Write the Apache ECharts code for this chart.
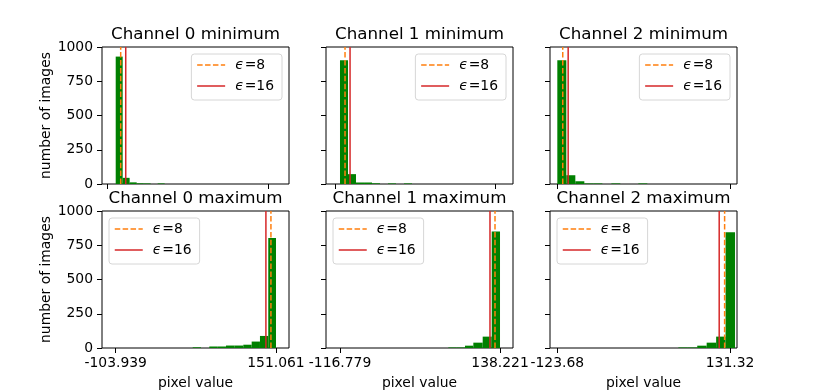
<!DOCTYPE html>
<html>
<head>
<meta charset="utf-8">
<script src="https://cdn.jsdelivr.net/npm/echarts@6/dist/echarts.min.js"></script>
<style>
  html, body { margin: 0; padding: 0; background: #fff; }
  #chart { width: 819px; height: 391px; }
</style>
</head>
<body>
<div id="chart"></div>
<script>
// channel ranges (pixel value minus channel mean)
const lowTicks = [-103.939, -116.779, -123.68];
const highTicks = [151.061, 138.221, 131.32];
const lowTickLabels = ['-103.939', '-116.779', '-123.68'];
const highTickLabels = ['151.061', '138.221', '131.32'];
// unlabeled ticks on the top row
const topRowTicks = [[-116.779, 138.221], [-123.68, 131.32], [-123.68, 131.32]];
const xMins = [-125.7, -139.1, -134.5];
const xMaxs = [171.8, 158.9, 141.6];

// histogram of per-image minimum
const minEdges0 = [-103.9, -92.8, -81.7, -70.5, -59.4, -48.3, -37.1, -26.0];
const minCounts0 = [930, 45, 12, 5, 4, 0, 4];
const minEdges1 = [-116.8, -104.0, -91.3, -78.5, -65.8, -53.0, -40.3, -27.5, -14.8, -2.0];
const minCounts1 = [904, 72, 11, 11, 5, 0, 4, 0, 4];
const minEdges2 = [-123.7, -110.4, -97.1, -83.8, -70.5, -57.2, -43.9, -30.7, -17.4, -4.1, 9.2];
const minCounts2 = [904, 64, 20, 4, 4, 0, 4, 0, 0, 4];

// histogram of per-image maximum
const maxEdges0 = [18.6, 31.8, 45.0, 58.3, 71.5, 85.4, 99.1, 112.4, 125.6, 138.8, 151.1];
const maxCounts0 = [5, 0, 11, 11, 18, 18, 24, 47, 88, 803];
const maxEdges1 = [55.8, 69.0, 82.4, 95.7, 110.6, 125.0, 138.2];
const maxCounts1 = [4, 4, 17, 39, 83, 850];
const maxEdges2 = [55.0, 68.9, 82.9, 96.8, 110.8, 124.7, 138.7];
const maxCounts2 = [4, 4, 17, 39, 83, 845];

// epsilon marker lines
const eps8Min = [-95.939, -108.779, -115.68];
const eps16Min = [-87.939, -100.779, -107.68];
const eps8Max = [143.061, 130.221, 123.32];
const eps16Max = [135.061, 122.221, 115.32];

const green = '#008000';
const orange = '#ff7f0e';
const red = '#d62728';
const font = 'DejaVu Sans';

const gridLefts = [102, 326, 550];
const gridTops = [47, 211];
const gridW = 187;
const gridH = 137;

const panels = [
  { row: 0, col: 0, title: 'Channel 0 minimum', edges: minEdges0, counts: minCounts0, e8: eps8Min[0], e16: eps16Min[0] },
  { row: 0, col: 1, title: 'Channel 1 minimum', edges: minEdges1, counts: minCounts1, e8: eps8Min[1], e16: eps16Min[1] },
  { row: 0, col: 2, title: 'Channel 2 minimum', edges: minEdges2, counts: minCounts2, e8: eps8Min[2], e16: eps16Min[2] },
  { row: 1, col: 0, title: 'Channel 0 maximum', edges: maxEdges0, counts: maxCounts0, e8: eps8Max[0], e16: eps16Max[0] },
  { row: 1, col: 1, title: 'Channel 1 maximum', edges: maxEdges1, counts: maxCounts1, e8: eps8Max[1], e16: eps16Max[1] },
  { row: 1, col: 2, title: 'Channel 2 maximum', edges: maxEdges2, counts: maxCounts2, e8: eps8Max[2], e16: eps16Max[2] }
];

function renderBar(params, api) {
  const top = api.coord([api.value(0), api.value(2)]);
  const bottom = api.coord([api.value(1), 0]);
  return {
    type: 'rect',
    shape: { x: top[0], y: top[1], width: bottom[0] - top[0], height: bottom[1] - top[1] },
    style: { fill: green }
  };
}

const grid = [], xAxis = [], yAxis = [], series = [], title = [], legend = [];

panels.forEach((p, i) => {
  const left = gridLefts[p.col];
  const top = gridTops[p.row];
  grid.push({ left, top, width: gridW, height: gridH, show: true, borderColor: '#000', borderWidth: 1, backgroundColor: 'transparent' });

  const ticks = p.row === 1 ? [lowTicks[p.col], highTicks[p.col]] : topRowTicks[p.col];
  xAxis.push({
    type: 'value',
    gridIndex: i,
    min: xMins[p.col],
    max: xMaxs[p.col],
    axisLine: { show: false, onZero: false },
    axisTick: { show: true, length: 5, inside: false, customValues: ticks, lineStyle: { color: '#000', width: 1 } },
    axisLabel: {
      show: p.row === 1,
      customValues: ticks,
      margin: 8,
      color: '#000',
      fontFamily: font,
      fontSize: 13.9,
      formatter: (v) => {
        const k = lowTicks.indexOf(v);
        if (k >= 0) return lowTickLabels[k];
        const h = highTicks.indexOf(v);
        return h >= 0 ? highTickLabels[h] : String(v);
      }
    },
    splitLine: { show: false },
    name: p.row === 1 ? 'pixel value' : '',
    nameLocation: 'middle',
    nameGap: 28,
    nameTextStyle: { color: '#000', fontFamily: font, fontSize: 13.9 }
  });

  yAxis.push({
    type: 'value',
    gridIndex: i,
    min: 0,
    max: 1000,
    interval: 250,
    axisLine: { show: false, onZero: false },
    axisTick: { show: true, length: 5, inside: false, lineStyle: { color: '#000', width: 1 } },
    axisLabel: { show: p.col === 0, margin: 9, color: '#000', fontFamily: font, fontSize: 13.9, formatter: (v) => String(v) },
    splitLine: { show: false },
    name: p.col === 0 ? 'number of images' : '',
    nameLocation: 'middle',
    nameRotate: 90,
    nameGap: 46,
    nameTextStyle: { color: '#000', fontFamily: font, fontSize: 13.9 }
  });

  const bars = p.counts.map((c, k) => [p.edges[k], p.edges[k + 1], c]);
  series.push({
    type: 'custom',
    xAxisIndex: i,
    yAxisIndex: i,
    renderItem: renderBar,
    encode: { x: [0, 1], y: 2 },
    data: bars,
    z: 2,
    silent: true
  });
  series.push({
    name: 'ϵ=8',
    type: 'line',
    xAxisIndex: i,
    yAxisIndex: i,
    data: [[p.e8, 0], [p.e8, 1000]],
    symbol: 'none',
    lineStyle: { color: orange, width: 1.5, type: [5.5, 2.4] },
    itemStyle: { color: orange },
    z: 3,
    silent: true
  });
  series.push({
    name: 'ϵ=16',
    type: 'line',
    xAxisIndex: i,
    yAxisIndex: i,
    data: [[p.e16, 0], [p.e16, 1000]],
    symbol: 'none',
    lineStyle: { color: red, width: 1.5 },
    itemStyle: { color: red },
    z: 4,
    silent: true
  });

  title.push({
    text: p.title,
    left: left + gridW / 2,
    top: top - 21,
    textAlign: 'center',
    padding: 0,
    textStyle: { color: '#000', fontFamily: font, fontSize: 16.7, fontWeight: 'normal', lineHeight: 17 }
  });

  const legendPos = p.row === 0
    ? { right: 819 - (left + gridW) + 7, top: top + 7 }
    : { left: left + 7, top: top + 7 };
  legend.push(Object.assign({
    orient: 'vertical',
    data: ['ϵ=8', 'ϵ=16'],
    itemWidth: 28,
    itemHeight: 14,
    itemGap: 7,
    padding: [4, 8, 7, 5],
    backgroundColor: '#fff',
    borderColor: '#d6d6d6',
    borderWidth: 1,
    borderRadius: 3,
    selectedMode: false,
    // hide the symbol, keep the line sample
    itemStyle: { opacity: 0 },
    lineStyle: { width: 1.5 },
    formatter: (name) => '{e|ϵ}{t|' + name.slice(1) + '}',
    textStyle: {
      color: '#000',
      fontFamily: font,
      fontSize: 13.9,
      lineHeight: 14,
      rich: {
        e: { fontStyle: 'italic', fontFamily: font, fontSize: 13.9, padding: [0, 1, 0, 5], color: '#000' },
        t: { fontFamily: font, fontSize: 13.9, color: '#000' }
      }
    }
  }, legendPos));
});

const chart = echarts.init(document.getElementById('chart'), null, { renderer: 'canvas' });
chart.setOption({
  animation: false,
  backgroundColor: '#fff',
  textStyle: { fontFamily: font },
  title,
  legend,
  grid,
  xAxis,
  yAxis,
  series
});
</script>
</body>
</html>
